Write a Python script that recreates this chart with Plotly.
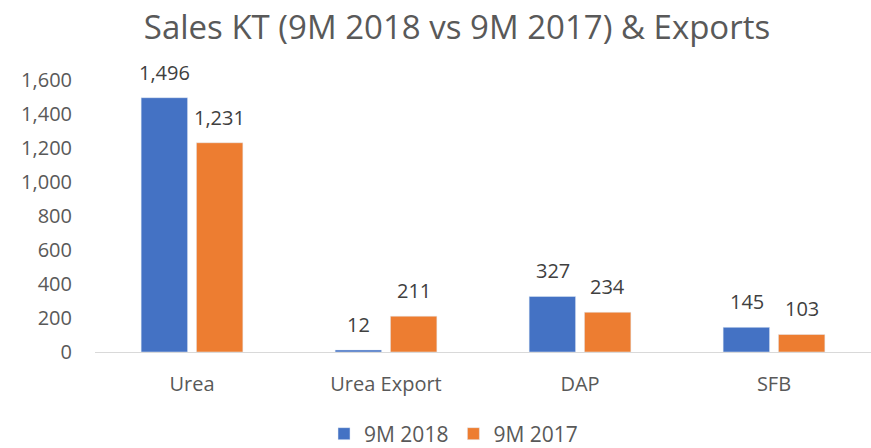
import plotly.graph_objects as go

# data
categories = ["Urea", "Urea Export", "DAP", "SFB"]
sales_2018 = [1496, 12, 327, 145]
sales_2017 = [1231, 211, 234, 103]

font_family = "Open Sans, Noto Sans, sans-serif"
label_color = "#404040"

fig = go.Figure()
fig.add_trace(go.Bar(x=categories, y=sales_2018, name="9M 2018", marker_color="#4472C4"))
fig.add_trace(go.Bar(x=categories, y=sales_2017, name="9M 2017", marker_color="#ED7D31"))

# data labels, placed above each bar with a little extra gap
for vals, shift in [(sales_2018, -27.5), (sales_2017, 27.5)]:
    for cat, v in zip(categories, vals):
        fig.add_annotation(x=cat, y=v, text=f"{v:,}", showarrow=False,
                           xshift=shift, yshift=10, yanchor="bottom",
                           font=dict(size=20, color=label_color))

fig.update_layout(
    width=871, height=448,
    margin=dict(l=95, r=0, t=80, b=96, autoexpand=False),
    paper_bgcolor="white", plot_bgcolor="white",
    font=dict(family=font_family, color="#595959"),
    title=dict(text="Sales KT (9M 2018 vs 9M 2017) & Exports", x=457 / 871, xanchor="center",
               y=1 - 27 / 448, yref="container", yanchor="middle",
               font=dict(size=33, color="#595959")),
    barmode="group", bargap=0.43, bargroupgap=0.16,
    legend=dict(orientation="h", x=0.462, xanchor="center", y=1 - 434 / 448, yref="container",
                yanchor="middle", font=dict(size=21, color="#595959")),
    xaxis=dict(showline=True, linecolor="#D9D9D9", linewidth=1, ticks="", automargin=False,
               tickfont=dict(size=20, color="#595959"), ticklabelstandoff=14),
    yaxis=dict(range=[0, 1600], dtick=200, tickformat=",", showgrid=False, zeroline=False,
               showline=False, automargin=False,
               tickfont=dict(size=20, color="#595959"), ticklabelstandoff=22),
)

# page default body margin would shift the chart by 8px
fig.write_html("out.html", config={"displayModeBar": False},
               post_script="document.body.style.margin='0';")
